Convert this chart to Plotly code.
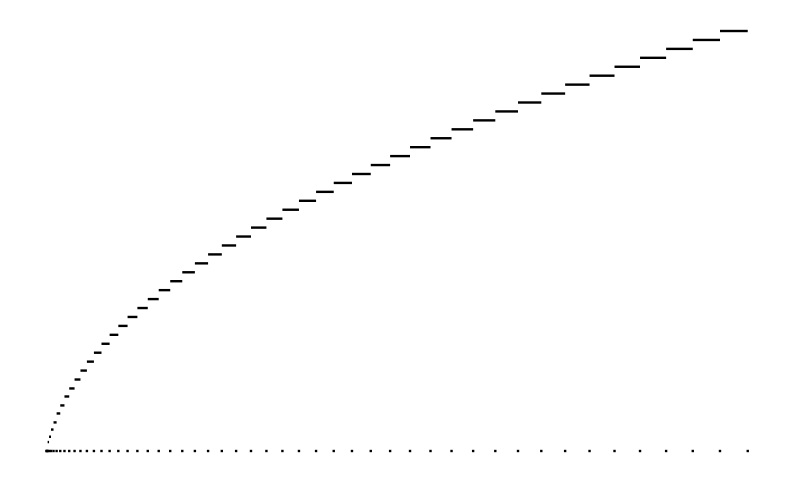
import plotly.graph_objects as go

# Step edges (x positions where each horizontal step begins/ends)
step_edges = [4, 9, 16, 25, 36, 49, 64, 81, 100, 121, 144, 169, 196, 225, 256,
              289, 324, 361, 400, 441, 484, 529, 576, 625, 676, 729, 784, 841,
              900, 961, 1024, 1089, 1156, 1225, 1296, 1369, 1444, 1521, 1600,
              1681, 1764, 1849, 1936, 2025, 2116, 2209, 2304, 2401, 2500]

# Level of each step (one fewer than the edges)
step_levels = [1.0, 1.6, 2.4, 3.2, 4.2, 5.1, 6.1, 7, 8, 9, 10, 11, 12, 13, 14,
               15, 16, 17, 18, 19, 20, 21, 22, 23, 24, 25, 26, 27, 28, 29, 30,
               31, 32, 33, 34, 35, 36, 37, 38, 39, 40, 41, 42, 43, 44, 45, 46, 47]

# Baseline dots
base_x = [0, 1, 4, 9, 16, 25, 36, 49, 64, 81, 100, 121, 144, 169, 196, 225,
          256, 289, 324, 361, 400, 441, 484, 529, 576, 625, 676, 729, 784, 841,
          900, 961, 1024, 1089, 1156, 1225, 1296, 1369, 1444, 1521, 1600, 1681,
          1764, 1849, 1936, 2025, 2116, 2209, 2304, 2401, 2500]
base_y = [0] * len(base_x)

seg_x, seg_y = [], []
for i, lvl in enumerate(step_levels):
    seg_x += [step_edges[i], step_edges[i + 1], None]
    seg_y += [lvl, lvl, None]

fig = go.Figure()
fig.add_trace(go.Scatter(x=seg_x, y=seg_y, mode="lines",
                         line=dict(color="black", width=2.4),
                         hoverinfo="skip", showlegend=False))
fig.add_trace(go.Scatter(x=base_x, y=base_y, mode="markers",
                         marker=dict(symbol="square", size=2.4, color="black",
                                     line=dict(width=0)),
                         hoverinfo="skip", showlegend=False))

fig.update_layout(
    width=792, height=482,
    margin=dict(l=0, r=0, t=0, b=0),
    paper_bgcolor="white", plot_bgcolor="white",
    xaxis=dict(range=[-137.3, 2686.3], visible=False, showgrid=False, zeroline=False),
    yaxis=dict(range=[-4.364, 49.575], visible=False, showgrid=False, zeroline=False),
)

fig.write_html("out.html", config={"displayModeBar": False})
